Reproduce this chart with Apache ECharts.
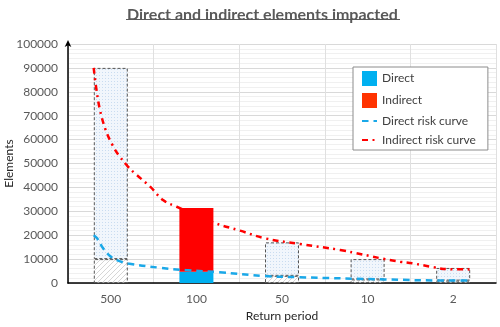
<!DOCTYPE html>
<html>
<head>
<meta charset="utf-8">
<script src="https://cdn.jsdelivr.net/npm/echarts@6/dist/echarts.min.js"></script>
<style>
html,body{margin:0;padding:0;background:#fff;}
#chart{width:500px;height:327px;}
</style>
</head>
<body>
<div id="chart"></div>
<script>
// ---- data ----
var categories = ['500', '100', '50', '10', '2'];
var directValues = [10000, 4700, 3000, 1500, 1000];
var indirectValues = [80000, 26700, 14000, 8500, 5300];
var highlightIndex = 1;
// risk curves: positions along the category index (bar centres at 0..4) and values
var directCurveX = [-0.2, -0.16, -0.09, -0.01, 0.07, 0.2, 0.57, 0.87, 1.27, 1.8, 2.21, 3.2, 4.0, 4.2];
var directCurveY = [20000, 18700, 14500, 11300, 9600, 8200, 6400, 5400, 4500, 2900, 2400, 1500, 1000, 1000];
var indirectCurveX = [-0.2, -0.17, -0.13, -0.06, 0.02, 0.09, 0.2, 0.28, 0.46, 0.61, 0.77, 1.19, 1.51, 1.8, 2.21, 2.68, 3.2, 3.38, 3.53, 3.77, 3.93, 4.2];
var indirectCurveY = [90000, 81500, 73000, 64000, 57700, 53600, 48700, 45900, 40300, 34700, 31900, 25400, 21900, 18700, 16300, 13800, 10000, 8900, 8200, 6600, 5800, 5700];

function zip(xs, ys) { return xs.map(function (x, i) { return [x, ys[i]]; }); }

// ---- patterns ----
function dotPattern() {
  var c = document.createElement('canvas'); c.width = 3; c.height = 3;
  var g = c.getContext('2d');
  g.fillStyle = '#f1f6fc'; g.fillRect(0, 0, 3, 3);
  g.fillStyle = '#c9dcf0'; g.fillRect(0, 0, 1, 1);
  return c;
}
function hatchPattern() {
  var c = document.createElement('canvas'); c.width = 5; c.height = 5;
  var g = c.getContext('2d');
  g.fillStyle = '#ffffff'; g.fillRect(0, 0, 5, 5);
  g.strokeStyle = '#d6d6d6'; g.lineWidth = 1;
  g.beginPath(); g.moveTo(-1, 6); g.lineTo(6, -1); g.stroke();
  g.beginPath(); g.moveTo(-1, 1); g.lineTo(1, -1); g.stroke();
  g.beginPath(); g.moveTo(4, 6); g.lineTo(6, 4); g.stroke();
  return c;
}
var dots = { image: dotPattern(), repeat: 'repeat' };
var hatch = { image: hatchPattern(), repeat: 'repeat' };
var dashedBorder = { borderColor: '#555555', borderWidth: 1, borderType: [3, 2] };

var directData = directValues.map(function (v, i) {
  if (i === highlightIndex) return { value: v, itemStyle: { color: '#00b0f0' } };
  return { value: v, itemStyle: Object.assign({ color: hatch }, dashedBorder) };
});
var indirectData = indirectValues.map(function (v, i) {
  if (i === highlightIndex) return { value: v, itemStyle: { color: '#ff0000' } };
  return { value: v, itemStyle: Object.assign({ color: dots }, dashedBorder) };
});

var FONT = 'Lato, "Open Sans", sans-serif';
var chart = echarts.init(document.getElementById('chart'), null, { renderer: 'canvas' });
chart.setOption({
  animation: false,
  backgroundColor: '#ffffff',
  textStyle: { fontFamily: FONT },
  title: {
    text: 'Direct and indirect elements impacted',
    left: 122, top: 2,
    textStyle: { fontFamily: FONT, fontSize: 16, fontWeight: 'bold', color: '#595959' }
  },
  graphic: [{
    type: 'line', shape: { x1: 126, y1: 19.5, x2: 400, y2: 19.5 },
    style: { stroke: '#595959', lineWidth: 1 }
  }],
  grid: { left: 68, right: 4, top: 44, bottom: 44, containLabel: false, outerBoundsMode: 'none' },
  legend: {
    orient: 'vertical', left: 353, top: 67,
    padding: [4, 12, 4, 8], itemGap: 7, itemWidth: 15, itemHeight: 15,
    backgroundColor: '#ffffff', borderColor: '#8c8c8c', borderWidth: 1,
    textStyle: { fontFamily: FONT, fontSize: 12, color: '#404040' },
    data: [
      { name: 'Direct', icon: 'rect' },
      { name: 'Indirect', icon: 'rect' },
      { name: 'Direct risk curve', itemStyle: { opacity: 0 } },
      { name: 'Indirect risk curve', itemStyle: { opacity: 0 } }
    ]
  },
  xAxis: [{
    type: 'category', data: categories, boundaryGap: true,
    name: 'Return period', nameLocation: 'middle', nameGap: 27, nameMoveOverlap: false,
    nameTextStyle: { fontFamily: FONT, fontSize: 12, color: '#262626' },
    axisLine: { show: true, onZero: false, lineStyle: { color: '#000000', width: 1.5 } },
    axisTick: { show: false },
    axisLabel: { fontFamily: FONT, fontSize: 12, color: '#595959', margin: 10 },
    splitLine: { show: true, lineStyle: { color: '#e0e0e0', width: 1 } }
  }, {
    type: 'value', min: -0.5, max: 4.5, show: false
  }],
  yAxis: {
    type: 'value', min: 0, max: 100000, interval: 10000,
    name: 'Elements', nameLocation: 'middle', nameGap: 53, nameRotate: 90, nameMoveOverlap: false,
    nameTextStyle: { fontFamily: FONT, fontSize: 12, color: '#262626' },
    axisLine: { show: true, onZero: false, symbol: ['none', 'arrow'], symbolSize: [5, 7], symbolOffset: [0, 4], lineStyle: { color: '#000000', width: 1.5 } },
    axisTick: { show: false },
    axisLabel: { fontFamily: FONT, fontSize: 12, color: '#595959', margin: 10, formatter: function (v) { return String(v); } },
    splitLine: { show: true, lineStyle: { color: '#d9d9d9', width: 1 } },
    minorTick: { show: false, splitNumber: 5 },
    minorSplitLine: { show: true, lineStyle: { color: '#f0f0f0', width: 1 } }
  },
  series: [{
    name: 'Direct', type: 'bar', stack: 'total', barWidth: 34,
    itemStyle: { color: '#00b0f0' }, data: directData, z: 2
  }, {
    name: 'Indirect', type: 'bar', stack: 'total', barWidth: 34,
    itemStyle: { color: '#ff3300' }, data: indirectData, z: 2
  }, {
    name: 'Direct risk curve', type: 'line', xAxisIndex: 1, smooth: 0.4,
    symbol: 'none', data: zip(directCurveX, directCurveY),
    itemStyle: { color: '#1aa8e8' },
    lineStyle: { color: '#1aa8e8', width: 2.5, type: [6.5, 5] }, z: 3
  }, {
    name: 'Indirect risk curve', type: 'line', xAxisIndex: 1, smooth: 0.4,
    symbol: 'none', data: zip(indirectCurveX, indirectCurveY),
    itemStyle: { color: '#ff0000' },
    lineStyle: { color: '#ff0000', width: 2.5, type: [6, 4.5, 2, 4.5] }, z: 3
  }]
});
</script>
</body>
</html>
